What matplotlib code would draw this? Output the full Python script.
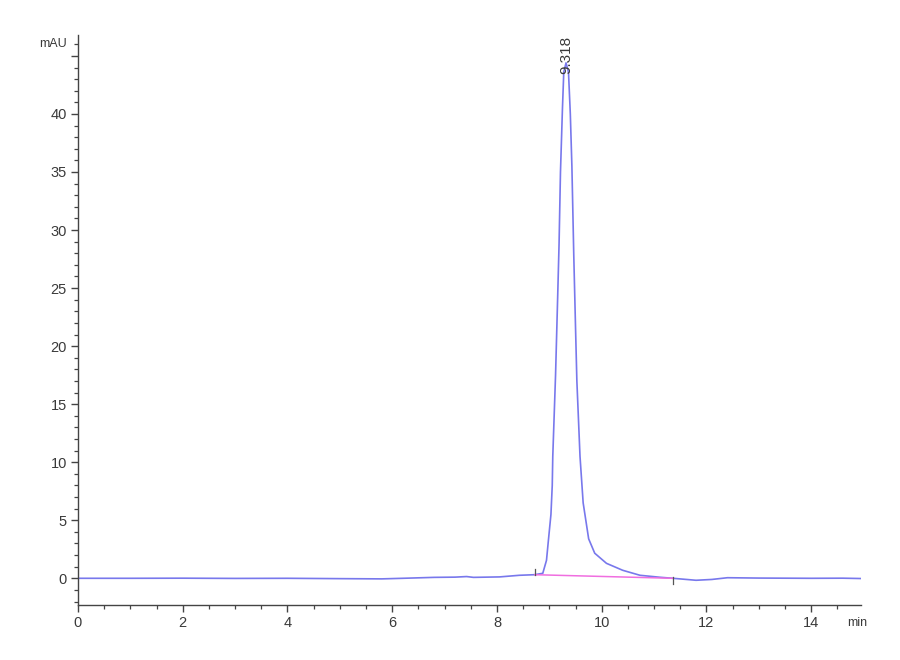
import matplotlib
matplotlib.use("Agg")
import matplotlib.pyplot as plt
from matplotlib.ticker import MultipleLocator, FuncFormatter

# ── data ─────────────────────────────────────────────────────────────────────
time_min = [0.0, 1.0, 2.0, 3.0, 4.0, 5.0, 5.8, 6.2, 6.8, 7.2, 7.42, 7.55,
            8.05, 8.43, 8.72, 8.874, 8.945, 8.98, 9.03, 9.055, 9.065, 9.118,
            9.16, 9.185, 9.212, 9.25, 9.275, 9.318, 9.365, 9.40, 9.43,
            9.466, 9.50, 9.525, 9.585, 9.645, 9.75, 9.866, 10.09, 10.4,
            10.73, 11.11, 11.36, 11.8, 12.1, 12.4, 13.0, 14.0, 14.6, 14.95]
signal_mau = [0.0, 0.0, 0.01, -0.01, 0.0, -0.03, -0.05, 0.0, 0.08, 0.1,
              0.15, 0.08, 0.12, 0.26, 0.31, 0.43, 1.55, 3.2, 5.5, 8.0, 10.5,
              17.5, 24.5, 28.8, 35.0, 40.5, 43.6, 44.4, 43.6, 40.0, 35.5,
              27.8, 21.5, 17.0, 10.5, 6.5, 3.4, 2.16, 1.29, 0.69,
              0.26, 0.09, 0.0, -0.17, -0.1, 0.05, 0.02, 0.0, 0.01, -0.02]

peak_rt = 9.318
peak_label = "9.318"
int_start = (8.72, 0.31)   # integration start (min, mAU)
int_end = (11.36, 0.0)     # integration end

BLUE = "#7878ec"
MAGENTA = "#f06ee0"
AXIS = "#444444"
TEXT = "#3a3a3a"

plt.rcParams["font.family"] = ["Liberation Sans", "DejaVu Sans"]

fig = plt.figure(figsize=(9, 6.6), dpi=100)
ax = fig.add_axes([78 / 900, 55 / 660, 783 / 900, 570 / 660])

ax.plot(time_min, signal_mau, color=BLUE, lw=1.2)
ax.plot([int_start[0], int_end[0]], [int_start[1], int_end[1]],
        color=MAGENTA, lw=1.1)

# integration markers
ax.plot([int_start[0]] * 2, [int_start[1], int_start[1] + 0.45], color="#555", lw=0.9)
ax.plot([int_end[0]] * 2, [int_end[1] - 0.45, int_end[1] + 0.1], color="#555", lw=0.9)

ax.text(peak_rt, 43.4, peak_label, rotation=90, ha="center", va="bottom",
        fontsize=11, color=TEXT)

ax.set_xlim(0, 14.95)
ax.set_ylim(-2.3, 46.8)

ax.xaxis.set_major_locator(MultipleLocator(2))
ax.xaxis.set_minor_locator(MultipleLocator(0.5))
ax.yaxis.set_major_locator(MultipleLocator(5))
ax.yaxis.set_minor_locator(MultipleLocator(1))
# the top tick carries the unit instead of a number
ax.yaxis.set_major_formatter(FuncFormatter(lambda v, p: "" if v > 42 else f"{v:g}"))

for side in ("top", "right"):
    ax.spines[side].set_visible(False)
for side in ("left", "bottom"):
    ax.spines[side].set_color(AXIS)
    ax.spines[side].set_linewidth(1.0)

ax.tick_params(which="major", length=5, width=1.0, color=AXIS,
               labelsize=10.5, labelcolor=TEXT, pad=3)
ax.tick_params(which="minor", length=3, width=0.9, color=AXIS)

fig.text(67 / 900, 1 - 44 / 660, "mAU", ha="right", va="center",
         fontsize=9, color=TEXT)
fig.text(847 / 900, 1 - 623 / 660, "min", ha="left", va="center",
         fontsize=9, color=TEXT)

fig.savefig("out.png", dpi=100)
